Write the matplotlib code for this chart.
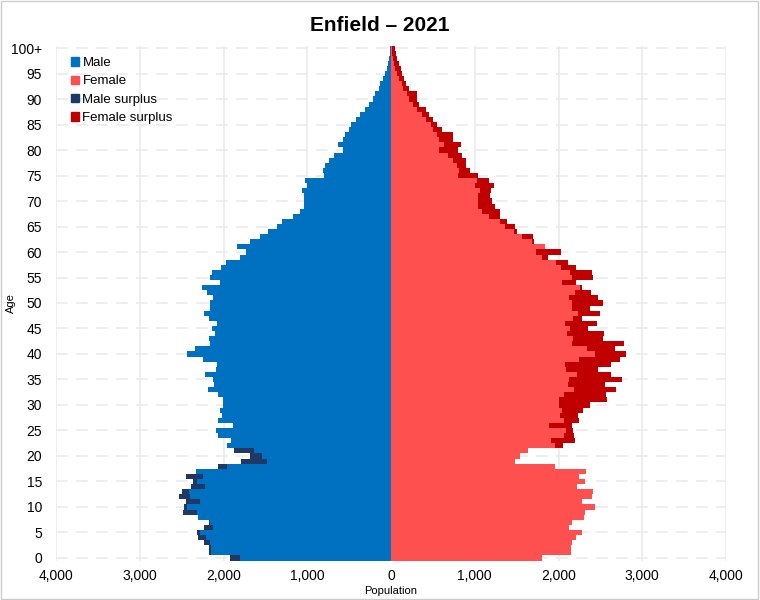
import matplotlib.pyplot as plt
from matplotlib.patches import Patch, Rectangle
import numpy as np

plt.rcParams['font.family'] = ['Liberation Sans', 'DejaVu Sans']

ages = np.arange(0, 101)
male = [1922, 2170, 2173, 2237, 2300, 2313, 2237, 2173, 2304, 2488,
        2468, 2448, 2528, 2492, 2392, 2368, 2448, 2325, 2062, 1795,
        1684, 1875, 1956, 1916, 2070, 2085, 1890, 2070, 2018, 2036,
        2004, 2004, 2064, 2185, 2113, 2123, 2225, 2085, 2074, 2249,
        2438, 2338, 2167, 2173, 2100, 2133, 2074, 2169, 2229, 2159,
        2159, 2125, 2195, 2261, 2046, 2159, 2141, 2030, 1966, 1807,
        1736, 1838, 1684, 1568, 1468, 1367, 1297, 1166, 1091, 1039,
        1039, 1039, 1061, 1005, 1021, 802, 816, 790, 740, 677,
        569, 629, 569, 549, 498, 478, 422, 370, 310, 263,
        219, 187, 147, 131, 92, 72, 44, 32, 24, 12, 10]
female = [1799, 2145, 2145, 2167, 2209, 2285, 2123, 2159, 2308, 2318,
          2434, 2279, 2398, 2414, 2225, 2314, 2249, 2330, 1956, 1482,
          1542, 1638, 2050, 2197, 2185, 2169, 2157, 2249, 2229, 2296,
          2376, 2583, 2563, 2683, 2555, 2762, 2627, 2476, 2623, 2734,
          2802, 2675, 2786, 2535, 2543, 2356, 2456, 2277, 2496, 2376,
          2535, 2468, 2388, 2277, 2205, 2408, 2396, 2209, 2117, 1878,
          2026, 1842, 1708, 1692, 1508, 1481, 1381, 1301, 1301, 1242,
          1210, 1182, 1194, 1230, 1174, 1035, 943, 900, 892, 852,
          796, 836, 744, 744, 605, 553, 505, 454, 414, 338,
          315, 315, 215, 179, 155, 135, 115, 96, 76, 60, 48]

x_ticks = [-4000, -3000, -2000, -1000, 0, 1000, 2000, 3000, 4000]
x_labels = ['4,000', '3,000', '2,000', '1,000', '0', '1,000', '2,000', '3,000', '4,000']
y_ticks = list(range(0, 101, 5))
y_labels = [str(v) for v in y_ticks[:-1]] + ['100+']

c_male = '#0070c0'
c_female = '#ff5050'
c_male_sur = '#203864'
c_female_sur = '#c00000'

m = np.array(male)
f = np.array(female)
common = np.minimum(m, f)

fig = plt.figure(figsize=(7.6, 6), dpi=100)
ax = fig.add_axes([56 / 760, 39.5 / 600, 670 / 760, 515 / 600])

ax.barh(ages, -common, height=1.0, color=c_male, linewidth=0, zorder=3)
ax.barh(ages, common, height=1.0, color=c_female, linewidth=0, zorder=3)
ax.barh(ages, -(m - common), left=-common, height=1.0, color=c_male_sur, linewidth=0, zorder=3)
ax.barh(ages, f - common, left=common, height=1.0, color=c_female_sur, linewidth=0, zorder=3)

ax.set_xlim(-4000, 4000)
ax.set_ylim(-0.5, 100.5)
ax.set_xticks(x_ticks)
ax.set_xticklabels(x_labels)
ax.set_yticks(y_ticks)
ax.set_yticklabels(y_labels)
ax.tick_params(length=0, labelsize=10)
ax.tick_params(axis='y', pad=10)
ax.tick_params(axis='x', pad=6)

ax.grid(axis='x', color='#ebebeb', linewidth=1.2, zorder=0)
ax.grid(axis='y', color='#ebebeb', linewidth=1.2, linestyle=(0, (7, 5)), zorder=0)
for s in ax.spines.values():
    s.set_visible(False)

ax.set_xlabel('Population', fontsize=8, labelpad=2)
ax.set_ylabel('Age', fontsize=8)
ax.yaxis.set_label_coords(-0.06, 0.5)
fig.suptitle('Enfield – 2021', fontsize=15, fontweight='bold', y=0.973)

handles = [Patch(color=c_male, label='Male'),
           Patch(color=c_female, label='Female'),
           Patch(color=c_male_sur, label='Male surplus'),
           Patch(color=c_female_sur, label='Female surplus')]
ax.legend(handles=handles, loc='upper left', bbox_to_anchor=(0.01, 0.993),
          frameon=False, fontsize=9.5, handlelength=0.6, handleheight=0.6,
          handletextpad=0.3, labelspacing=0.48, borderaxespad=0.2)

fig.patches.append(Rectangle((0.001, 0.002), 0.997, 0.996, transform=fig.transFigure,
                             fill=False, edgecolor='#cccccc', linewidth=1))

fig.savefig('out.png', dpi=100)
